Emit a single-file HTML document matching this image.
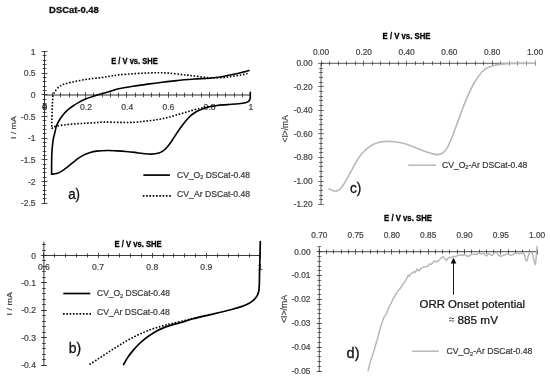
<!DOCTYPE html>
<html><head><meta charset="utf-8"><title>DSCat-0.48</title>
<style>
html,body{margin:0;padding:0;background:#fff;}
body{width:550px;height:378px;overflow:hidden;font-family:"Liberation Sans",sans-serif;}
svg{display:block;}
svg text{font-family:"Liberation Sans",sans-serif;}
body{-webkit-font-smoothing:antialiased;}
svg{will-change:transform;transform:translateZ(0);}
</style></head><body>
<svg width="550" height="378" viewBox="0 0 550 378">
<rect width="550" height="378" fill="#fff"/>
<text x="49.10" y="13.10" font-size="8.8" text-anchor="start" font-weight="bold" fill="#111"  stroke="#111" stroke-width="0.3" textLength="49.60" lengthAdjust="spacingAndGlyphs">DSCat-0.48</text>
<line x1="44.50" y1="95.00" x2="250.80" y2="95.00" stroke="#2a2a2a" stroke-width="1.0" />
<line x1="44.50" y1="51.60" x2="44.50" y2="203.15" stroke="#262626" stroke-width="0.9" />
<line x1="44.50" y1="92.00" x2="44.50" y2="97.80" stroke="#262626" stroke-width="0.8"/>
<line x1="52.50" y1="92.60" x2="52.50" y2="97.20" stroke="#262626" stroke-width="0.8"/>
<line x1="60.50" y1="92.60" x2="60.50" y2="97.20" stroke="#262626" stroke-width="0.8"/>
<line x1="69.50" y1="92.60" x2="69.50" y2="97.20" stroke="#262626" stroke-width="0.8"/>
<line x1="77.50" y1="92.60" x2="77.50" y2="97.20" stroke="#262626" stroke-width="0.8"/>
<line x1="85.50" y1="92.00" x2="85.50" y2="97.80" stroke="#262626" stroke-width="0.8"/>
<line x1="93.50" y1="92.60" x2="93.50" y2="97.20" stroke="#262626" stroke-width="0.8"/>
<line x1="102.50" y1="92.60" x2="102.50" y2="97.20" stroke="#262626" stroke-width="0.8"/>
<line x1="110.50" y1="92.60" x2="110.50" y2="97.20" stroke="#262626" stroke-width="0.8"/>
<line x1="118.50" y1="92.60" x2="118.50" y2="97.20" stroke="#262626" stroke-width="0.8"/>
<line x1="126.50" y1="92.00" x2="126.50" y2="97.80" stroke="#262626" stroke-width="0.8"/>
<line x1="135.50" y1="92.60" x2="135.50" y2="97.20" stroke="#262626" stroke-width="0.8"/>
<line x1="143.50" y1="92.60" x2="143.50" y2="97.20" stroke="#262626" stroke-width="0.8"/>
<line x1="151.50" y1="92.60" x2="151.50" y2="97.20" stroke="#262626" stroke-width="0.8"/>
<line x1="159.50" y1="92.60" x2="159.50" y2="97.20" stroke="#262626" stroke-width="0.8"/>
<line x1="168.50" y1="92.00" x2="168.50" y2="97.80" stroke="#262626" stroke-width="0.8"/>
<line x1="176.50" y1="92.60" x2="176.50" y2="97.20" stroke="#262626" stroke-width="0.8"/>
<line x1="184.50" y1="92.60" x2="184.50" y2="97.20" stroke="#262626" stroke-width="0.8"/>
<line x1="192.50" y1="92.60" x2="192.50" y2="97.20" stroke="#262626" stroke-width="0.8"/>
<line x1="201.50" y1="92.60" x2="201.50" y2="97.20" stroke="#262626" stroke-width="0.8"/>
<line x1="209.50" y1="92.00" x2="209.50" y2="97.80" stroke="#262626" stroke-width="0.8"/>
<line x1="217.50" y1="92.60" x2="217.50" y2="97.20" stroke="#262626" stroke-width="0.8"/>
<line x1="225.50" y1="92.60" x2="225.50" y2="97.20" stroke="#262626" stroke-width="0.8"/>
<line x1="234.50" y1="92.60" x2="234.50" y2="97.20" stroke="#262626" stroke-width="0.8"/>
<line x1="242.50" y1="92.60" x2="242.50" y2="97.20" stroke="#262626" stroke-width="0.8"/>
<line x1="250.50" y1="92.00" x2="250.50" y2="97.80" stroke="#262626" stroke-width="0.8"/>
<line x1="41.50" y1="51.50" x2="47.50" y2="51.50" stroke="#262626" stroke-width="0.8"/>
<line x1="42.60" y1="55.50" x2="46.40" y2="55.50" stroke="#262626" stroke-width="0.8"/>
<line x1="42.60" y1="60.50" x2="46.40" y2="60.50" stroke="#262626" stroke-width="0.8"/>
<line x1="42.60" y1="64.50" x2="46.40" y2="64.50" stroke="#262626" stroke-width="0.8"/>
<line x1="42.60" y1="68.50" x2="46.40" y2="68.50" stroke="#262626" stroke-width="0.8"/>
<line x1="41.50" y1="73.50" x2="47.50" y2="73.50" stroke="#262626" stroke-width="0.8"/>
<line x1="42.60" y1="77.50" x2="46.40" y2="77.50" stroke="#262626" stroke-width="0.8"/>
<line x1="42.60" y1="81.50" x2="46.40" y2="81.50" stroke="#262626" stroke-width="0.8"/>
<line x1="42.60" y1="86.50" x2="46.40" y2="86.50" stroke="#262626" stroke-width="0.8"/>
<line x1="42.60" y1="90.50" x2="46.40" y2="90.50" stroke="#262626" stroke-width="0.8"/>
<line x1="41.50" y1="94.50" x2="47.50" y2="94.50" stroke="#262626" stroke-width="0.8"/>
<line x1="42.60" y1="99.50" x2="46.40" y2="99.50" stroke="#262626" stroke-width="0.8"/>
<line x1="42.60" y1="103.50" x2="46.40" y2="103.50" stroke="#262626" stroke-width="0.8"/>
<line x1="42.60" y1="107.50" x2="46.40" y2="107.50" stroke="#262626" stroke-width="0.8"/>
<line x1="42.60" y1="112.50" x2="46.40" y2="112.50" stroke="#262626" stroke-width="0.8"/>
<line x1="41.50" y1="116.50" x2="47.50" y2="116.50" stroke="#262626" stroke-width="0.8"/>
<line x1="42.60" y1="120.50" x2="46.40" y2="120.50" stroke="#262626" stroke-width="0.8"/>
<line x1="42.60" y1="125.50" x2="46.40" y2="125.50" stroke="#262626" stroke-width="0.8"/>
<line x1="42.60" y1="129.50" x2="46.40" y2="129.50" stroke="#262626" stroke-width="0.8"/>
<line x1="42.60" y1="133.50" x2="46.40" y2="133.50" stroke="#262626" stroke-width="0.8"/>
<line x1="41.50" y1="138.50" x2="47.50" y2="138.50" stroke="#262626" stroke-width="0.8"/>
<line x1="42.60" y1="142.50" x2="46.40" y2="142.50" stroke="#262626" stroke-width="0.8"/>
<line x1="42.60" y1="146.50" x2="46.40" y2="146.50" stroke="#262626" stroke-width="0.8"/>
<line x1="42.60" y1="151.50" x2="46.40" y2="151.50" stroke="#262626" stroke-width="0.8"/>
<line x1="42.60" y1="155.50" x2="46.40" y2="155.50" stroke="#262626" stroke-width="0.8"/>
<line x1="41.50" y1="159.50" x2="47.50" y2="159.50" stroke="#262626" stroke-width="0.8"/>
<line x1="42.60" y1="164.50" x2="46.40" y2="164.50" stroke="#262626" stroke-width="0.8"/>
<line x1="42.60" y1="168.50" x2="46.40" y2="168.50" stroke="#262626" stroke-width="0.8"/>
<line x1="42.60" y1="172.50" x2="46.40" y2="172.50" stroke="#262626" stroke-width="0.8"/>
<line x1="42.60" y1="177.50" x2="46.40" y2="177.50" stroke="#262626" stroke-width="0.8"/>
<line x1="41.50" y1="181.50" x2="47.50" y2="181.50" stroke="#262626" stroke-width="0.8"/>
<line x1="42.60" y1="185.50" x2="46.40" y2="185.50" stroke="#262626" stroke-width="0.8"/>
<line x1="42.60" y1="190.50" x2="46.40" y2="190.50" stroke="#262626" stroke-width="0.8"/>
<line x1="42.60" y1="194.50" x2="46.40" y2="194.50" stroke="#262626" stroke-width="0.8"/>
<line x1="42.60" y1="198.50" x2="46.40" y2="198.50" stroke="#262626" stroke-width="0.8"/>
<line x1="41.50" y1="203.50" x2="47.50" y2="203.50" stroke="#262626" stroke-width="0.8"/>
<text x="35.60" y="54.60" font-size="8.6" text-anchor="end" font-weight="normal" fill="#454545"  stroke="#454545" stroke-width="0.22">1</text>
<text x="35.60" y="76.25" font-size="8.6" text-anchor="end" font-weight="normal" fill="#454545"  stroke="#454545" stroke-width="0.22">0.5</text>
<text x="35.60" y="97.90" font-size="8.6" text-anchor="end" font-weight="normal" fill="#454545"  stroke="#454545" stroke-width="0.22">0</text>
<text x="35.60" y="119.55" font-size="8.6" text-anchor="end" font-weight="normal" fill="#454545"  stroke="#454545" stroke-width="0.22">-0.5</text>
<text x="35.60" y="141.20" font-size="8.6" text-anchor="end" font-weight="normal" fill="#454545"  stroke="#454545" stroke-width="0.22">-1</text>
<text x="35.60" y="162.85" font-size="8.6" text-anchor="end" font-weight="normal" fill="#454545"  stroke="#454545" stroke-width="0.22">-1.5</text>
<text x="35.60" y="184.50" font-size="8.6" text-anchor="end" font-weight="normal" fill="#454545"  stroke="#454545" stroke-width="0.22">-2</text>
<text x="35.60" y="206.15" font-size="8.6" text-anchor="end" font-weight="normal" fill="#454545"  stroke="#454545" stroke-width="0.22">-2.5</text>
<text x="44.60" y="109.70" font-size="8.8" text-anchor="middle" font-weight="normal" fill="#1c1c1c" stroke="#1c1c1c" stroke-width="0.45">0</text>
<text x="86.00" y="109.60" font-size="8.6" text-anchor="middle" font-weight="normal" fill="#454545"  stroke="#454545" stroke-width="0.22">0.2</text>
<text x="127.20" y="109.60" font-size="8.6" text-anchor="middle" font-weight="normal" fill="#454545"  stroke="#454545" stroke-width="0.22">0.4</text>
<text x="168.40" y="109.60" font-size="8.6" text-anchor="middle" font-weight="normal" fill="#454545"  stroke="#454545" stroke-width="0.22">0.6</text>
<text x="209.60" y="109.60" font-size="8.6" text-anchor="middle" font-weight="normal" fill="#454545"  stroke="#454545" stroke-width="0.22">0.8</text>
<text x="250.80" y="109.60" font-size="8.6" text-anchor="middle" font-weight="normal" fill="#454545"  stroke="#454545" stroke-width="0.22">1</text>
<text x="134.50" y="64.30" font-size="8.7" text-anchor="middle" font-weight="bold" fill="#000"  stroke="#000" stroke-width="0.3" textLength="46.50" lengthAdjust="spacingAndGlyphs">E / V vs. SHE</text>
<text transform="translate(16.10,127.70) rotate(-90)" font-size="8.0" text-anchor="middle" fill="#454545" stroke="#454545" stroke-width="0.2" textLength="22.80" lengthAdjust="spacingAndGlyphs">I / mA</text>
<path d="M247.60,73.50 C246.52,73.75 243.63,74.52 241.10,75.00 C238.57,75.48 235.32,75.98 232.40,76.40 C229.48,76.82 226.75,77.25 223.60,77.50 C220.45,77.75 216.40,77.90 213.50,77.90 C210.60,77.90 208.87,77.75 206.20,77.50 C203.53,77.25 200.42,76.77 197.50,76.40 C194.58,76.03 191.37,75.62 188.70,75.30 C186.03,74.98 184.70,74.85 181.50,74.50 C178.30,74.15 173.20,73.50 169.50,73.20 C165.80,72.90 162.95,72.73 159.30,72.70 C155.65,72.67 151.97,72.83 147.60,73.00 C143.23,73.17 137.95,73.38 133.10,73.70 C128.25,74.02 122.35,74.48 118.50,74.90 C114.65,75.32 112.72,75.77 110.00,76.20 C107.28,76.63 105.05,77.12 102.20,77.50 C99.35,77.88 95.98,78.12 92.90,78.50 C89.82,78.88 86.78,79.28 83.70,79.80 C80.62,80.32 77.27,81.00 74.40,81.60 C71.53,82.20 68.60,82.82 66.50,83.40 C64.40,83.98 63.23,84.37 61.80,85.10 C60.37,85.83 59.07,86.68 57.90,87.80 C56.73,88.92 55.58,90.60 54.80,91.80 C54.02,93.00 53.58,93.30 53.20,95.00 C52.82,96.70 52.67,99.50 52.50,102.00 C52.33,104.50 52.30,107.00 52.20,110.00 C52.10,113.00 51.98,116.88 51.90,120.00 C51.82,123.12 51.73,127.25 51.70,128.70" fill="none" stroke="#000" stroke-width="1.6" stroke-dasharray="1.6 1.7" stroke-linecap="butt"/>
<path d="M51.70,128.70 C52.40,128.30 53.22,127.00 55.90,126.30 C58.58,125.60 63.83,124.95 67.80,124.50 C71.77,124.05 75.73,123.87 79.70,123.60 C83.67,123.33 87.63,123.15 91.60,122.90 C95.57,122.65 98.77,122.18 103.50,122.10 C108.23,122.02 114.92,122.37 120.00,122.40 C125.08,122.43 129.85,122.50 134.00,122.30 C138.15,122.10 141.27,121.60 144.90,121.20 C148.53,120.80 152.17,120.48 155.80,119.90 C159.43,119.32 163.07,118.57 166.70,117.70 C170.33,116.83 173.97,115.75 177.60,114.70 C181.23,113.65 184.85,112.43 188.50,111.40 C192.15,110.37 196.58,109.23 199.50,108.50 C202.42,107.77 203.10,107.48 206.00,107.00 C208.90,106.52 215.08,105.83 216.90,105.60" fill="none" stroke="#000" stroke-width="1.6" stroke-dasharray="1.6 1.7" stroke-linecap="butt"/>
<path d="M249.10,70.50 C248.25,70.73 246.30,71.32 244.00,71.90 C241.70,72.48 238.22,73.37 235.30,74.00 C232.38,74.63 229.42,75.15 226.50,75.70 C223.58,76.25 220.70,76.88 217.80,77.30 C214.90,77.72 212.98,77.92 209.10,78.20 C205.22,78.48 198.68,78.73 194.50,79.00 C190.32,79.27 186.97,79.53 184.00,79.80 C181.03,80.07 180.33,80.20 176.70,80.60 C173.07,81.00 167.05,81.62 162.20,82.20 C157.35,82.78 152.45,83.42 147.60,84.10 C142.75,84.78 137.95,85.53 133.10,86.30 C128.25,87.07 122.30,87.87 118.50,88.70 C114.70,89.53 112.67,90.58 110.30,91.30 C107.93,92.02 106.97,92.23 104.30,93.00 C101.63,93.77 97.35,94.93 94.30,95.90 C91.25,96.87 88.58,97.72 86.00,98.80 C83.42,99.88 80.98,101.20 78.80,102.40 C76.62,103.60 74.88,104.62 72.90,106.00 C70.92,107.38 68.68,109.02 66.90,110.70 C65.12,112.38 63.58,114.30 62.20,116.10 C60.82,117.90 59.60,119.72 58.60,121.50 C57.60,123.28 56.82,124.97 56.20,126.80 C55.58,128.63 55.38,130.47 54.90,132.50 C54.42,134.53 53.73,136.58 53.30,139.00 C52.87,141.42 52.55,144.33 52.30,147.00 C52.05,149.67 51.92,152.00 51.80,155.00 C51.68,158.00 51.63,161.80 51.60,165.00 C51.57,168.20 51.60,172.67 51.60,174.20" fill="none" stroke="#000" stroke-width="1.6" stroke-linejoin="round" stroke-linecap="round" stroke-linecap="butt"/>
<path d="M51.60,174.20 C52.45,174.10 54.93,174.15 56.70,173.60 C58.47,173.05 60.38,172.02 62.20,170.90 C64.02,169.78 65.78,168.32 67.60,166.90 C69.42,165.48 71.28,163.85 73.10,162.40 C74.92,160.95 76.68,159.45 78.50,158.20 C80.32,156.95 82.17,155.82 84.00,154.90 C85.83,153.98 87.38,153.33 89.50,152.70 C91.62,152.07 93.68,151.47 96.70,151.10 C99.72,150.73 104.27,150.53 107.60,150.50 C110.93,150.47 113.67,150.73 116.70,150.90 C119.73,151.07 122.77,151.25 125.80,151.50 C128.83,151.75 132.08,152.07 134.90,152.40 C137.72,152.73 139.93,153.22 142.70,153.50 C145.47,153.78 148.95,154.13 151.50,154.10 C154.05,154.07 156.00,153.87 158.00,153.30 C160.00,152.73 161.68,152.08 163.50,150.70 C165.32,149.32 167.08,147.30 168.90,145.00 C170.72,142.70 172.58,139.60 174.40,136.90 C176.22,134.20 177.98,131.35 179.80,128.80 C181.62,126.25 183.48,123.78 185.30,121.60 C187.12,119.42 188.88,117.33 190.70,115.70 C192.52,114.07 194.38,112.88 196.20,111.80 C198.02,110.72 199.60,110.00 201.60,109.20 C203.60,108.40 205.65,107.62 208.20,107.00 C210.75,106.38 213.63,105.90 216.90,105.50 C220.17,105.10 224.17,104.90 227.80,104.60 C231.43,104.30 235.78,104.02 238.70,103.70 C241.62,103.38 243.65,103.10 245.30,102.70 C246.95,102.30 247.80,101.97 248.60,101.30 C249.40,100.63 249.82,99.75 250.10,98.70 C250.38,97.65 250.27,96.08 250.30,95.00 C250.33,93.92 250.30,92.67 250.30,92.20" fill="none" stroke="#000" stroke-width="1.6" stroke-linejoin="round" stroke-linecap="round" />
<text x="68.20" y="199.30" font-size="14.5" text-anchor="start" font-weight="normal" fill="#111" stroke="#111" stroke-width="0.3" textLength="11.90" lengthAdjust="spacingAndGlyphs">a)</text>
<line x1="143.30" y1="175.10" x2="169.90" y2="175.10" stroke="#000" stroke-width="1.7" />
<text x="177.10" y="177.70" font-size="8.4" text-anchor="start" font-weight="normal" fill="#3a3a3a"  stroke="#3a3a3a" stroke-width="0.22" textLength="72.90" lengthAdjust="spacingAndGlyphs">CV_O<tspan font-size="5.5" dy="1.5">2</tspan><tspan dy="-1.5"> DSCat-0.48</tspan></text>
<line x1="142.8" y1="195.8" x2="171.6" y2="195.8" stroke="#000" stroke-width="1.7" stroke-dasharray="1.6 1.7" stroke-linecap="butt"/>
<text x="177.10" y="197.00" font-size="8.4" text-anchor="start" font-weight="normal" fill="#3a3a3a"  stroke="#3a3a3a" stroke-width="0.22" textLength="72.90" lengthAdjust="spacingAndGlyphs">CV_Ar DSCat-0.48</text>
<line x1="43.90" y1="255.50" x2="260.50" y2="255.50" stroke="#262626" stroke-width="0.9" />
<line x1="43.90" y1="241.78" x2="43.90" y2="365.30" stroke="#262626" stroke-width="0.9" />
<line x1="43.50" y1="252.90" x2="43.50" y2="258.10" stroke="#262626" stroke-width="0.8"/>
<line x1="54.50" y1="253.50" x2="54.50" y2="257.50" stroke="#262626" stroke-width="0.8"/>
<line x1="65.50" y1="253.50" x2="65.50" y2="257.50" stroke="#262626" stroke-width="0.8"/>
<line x1="76.50" y1="253.50" x2="76.50" y2="257.50" stroke="#262626" stroke-width="0.8"/>
<line x1="87.50" y1="253.50" x2="87.50" y2="257.50" stroke="#262626" stroke-width="0.8"/>
<line x1="98.50" y1="252.90" x2="98.50" y2="258.10" stroke="#262626" stroke-width="0.8"/>
<line x1="108.50" y1="253.50" x2="108.50" y2="257.50" stroke="#262626" stroke-width="0.8"/>
<line x1="119.50" y1="253.50" x2="119.50" y2="257.50" stroke="#262626" stroke-width="0.8"/>
<line x1="130.50" y1="253.50" x2="130.50" y2="257.50" stroke="#262626" stroke-width="0.8"/>
<line x1="141.50" y1="253.50" x2="141.50" y2="257.50" stroke="#262626" stroke-width="0.8"/>
<line x1="152.50" y1="252.90" x2="152.50" y2="258.10" stroke="#262626" stroke-width="0.8"/>
<line x1="163.50" y1="253.50" x2="163.50" y2="257.50" stroke="#262626" stroke-width="0.8"/>
<line x1="173.50" y1="253.50" x2="173.50" y2="257.50" stroke="#262626" stroke-width="0.8"/>
<line x1="184.50" y1="253.50" x2="184.50" y2="257.50" stroke="#262626" stroke-width="0.8"/>
<line x1="195.50" y1="253.50" x2="195.50" y2="257.50" stroke="#262626" stroke-width="0.8"/>
<line x1="206.50" y1="252.90" x2="206.50" y2="258.10" stroke="#262626" stroke-width="0.8"/>
<line x1="217.50" y1="253.50" x2="217.50" y2="257.50" stroke="#262626" stroke-width="0.8"/>
<line x1="228.50" y1="253.50" x2="228.50" y2="257.50" stroke="#262626" stroke-width="0.8"/>
<line x1="238.50" y1="253.50" x2="238.50" y2="257.50" stroke="#262626" stroke-width="0.8"/>
<line x1="249.50" y1="253.50" x2="249.50" y2="257.50" stroke="#262626" stroke-width="0.8"/>
<line x1="260.50" y1="252.90" x2="260.50" y2="258.10" stroke="#262626" stroke-width="0.8"/>
<line x1="42.00" y1="244.50" x2="45.80" y2="244.50" stroke="#262626" stroke-width="0.8"/>
<line x1="42.00" y1="250.50" x2="45.80" y2="250.50" stroke="#262626" stroke-width="0.8"/>
<line x1="42.00" y1="255.50" x2="45.80" y2="255.50" stroke="#262626" stroke-width="0.8"/>
<line x1="42.00" y1="260.50" x2="45.80" y2="260.50" stroke="#262626" stroke-width="0.8"/>
<line x1="42.00" y1="266.50" x2="45.80" y2="266.50" stroke="#262626" stroke-width="0.8"/>
<line x1="42.00" y1="271.50" x2="45.80" y2="271.50" stroke="#262626" stroke-width="0.8"/>
<line x1="42.00" y1="277.50" x2="45.80" y2="277.50" stroke="#262626" stroke-width="0.8"/>
<line x1="42.00" y1="282.50" x2="45.80" y2="282.50" stroke="#262626" stroke-width="0.8"/>
<line x1="42.00" y1="288.50" x2="45.80" y2="288.50" stroke="#262626" stroke-width="0.8"/>
<line x1="42.00" y1="293.50" x2="45.80" y2="293.50" stroke="#262626" stroke-width="0.8"/>
<line x1="42.00" y1="299.50" x2="45.80" y2="299.50" stroke="#262626" stroke-width="0.8"/>
<line x1="42.00" y1="304.50" x2="45.80" y2="304.50" stroke="#262626" stroke-width="0.8"/>
<line x1="42.00" y1="310.50" x2="45.80" y2="310.50" stroke="#262626" stroke-width="0.8"/>
<line x1="42.00" y1="315.50" x2="45.80" y2="315.50" stroke="#262626" stroke-width="0.8"/>
<line x1="42.00" y1="321.50" x2="45.80" y2="321.50" stroke="#262626" stroke-width="0.8"/>
<line x1="42.00" y1="326.50" x2="45.80" y2="326.50" stroke="#262626" stroke-width="0.8"/>
<line x1="42.00" y1="332.50" x2="45.80" y2="332.50" stroke="#262626" stroke-width="0.8"/>
<line x1="42.00" y1="337.50" x2="45.80" y2="337.50" stroke="#262626" stroke-width="0.8"/>
<line x1="42.00" y1="343.50" x2="45.80" y2="343.50" stroke="#262626" stroke-width="0.8"/>
<line x1="42.00" y1="348.50" x2="45.80" y2="348.50" stroke="#262626" stroke-width="0.8"/>
<line x1="42.00" y1="354.50" x2="45.80" y2="354.50" stroke="#262626" stroke-width="0.8"/>
<line x1="42.00" y1="359.50" x2="45.80" y2="359.50" stroke="#262626" stroke-width="0.8"/>
<line x1="42.00" y1="365.50" x2="45.80" y2="365.50" stroke="#262626" stroke-width="0.8"/>
<line x1="40.90" y1="255.50" x2="46.90" y2="255.50" stroke="#262626" stroke-width="0.8"/>
<line x1="40.90" y1="282.50" x2="46.90" y2="282.50" stroke="#262626" stroke-width="0.8"/>
<line x1="40.90" y1="310.50" x2="46.90" y2="310.50" stroke="#262626" stroke-width="0.8"/>
<line x1="40.90" y1="337.50" x2="46.90" y2="337.50" stroke="#262626" stroke-width="0.8"/>
<line x1="40.90" y1="365.50" x2="46.90" y2="365.50" stroke="#262626" stroke-width="0.8"/>
<text x="36.00" y="258.50" font-size="8.6" text-anchor="end" font-weight="normal" fill="#454545"  stroke="#454545" stroke-width="0.22">0</text>
<text x="36.00" y="285.95" font-size="8.6" text-anchor="end" font-weight="normal" fill="#454545"  stroke="#454545" stroke-width="0.22">-0.1</text>
<text x="36.00" y="313.40" font-size="8.6" text-anchor="end" font-weight="normal" fill="#454545"  stroke="#454545" stroke-width="0.22">-0.2</text>
<text x="36.00" y="340.85" font-size="8.6" text-anchor="end" font-weight="normal" fill="#454545"  stroke="#454545" stroke-width="0.22">-0.3</text>
<text x="36.00" y="368.30" font-size="8.6" text-anchor="end" font-weight="normal" fill="#454545"  stroke="#454545" stroke-width="0.22">-0.4</text>
<text x="43.90" y="269.70" font-size="8.6" text-anchor="middle" font-weight="normal" fill="#454545"  stroke="#454545" stroke-width="0.22">0.6</text>
<text x="98.05" y="269.70" font-size="8.6" text-anchor="middle" font-weight="normal" fill="#454545"  stroke="#454545" stroke-width="0.22">0.7</text>
<text x="152.20" y="269.70" font-size="8.6" text-anchor="middle" font-weight="normal" fill="#454545"  stroke="#454545" stroke-width="0.22">0.8</text>
<text x="206.35" y="269.70" font-size="8.6" text-anchor="middle" font-weight="normal" fill="#454545"  stroke="#454545" stroke-width="0.22">0.9</text>
<text x="260.50" y="269.70" font-size="8.6" text-anchor="middle" font-weight="normal" fill="#454545"  stroke="#454545" stroke-width="0.22">1</text>
<text x="138.10" y="246.50" font-size="8.7" text-anchor="middle" font-weight="bold" fill="#000"  stroke="#000" stroke-width="0.3" textLength="47.30" lengthAdjust="spacingAndGlyphs">E / V vs. SHE</text>
<text transform="translate(12.40,303.80) rotate(-90)" font-size="8.0" text-anchor="middle" fill="#454545" stroke="#454545" stroke-width="0.2" textLength="23.20" lengthAdjust="spacingAndGlyphs">I / mA</text>
<path d="M89.50,364.50 C91.00,363.53 95.48,360.67 98.50,358.70 C101.52,356.73 104.57,354.67 107.60,352.70 C110.63,350.73 113.67,348.80 116.70,346.90 C119.73,345.00 122.77,343.05 125.80,341.30 C128.83,339.55 131.87,337.92 134.90,336.40 C137.93,334.88 140.97,333.48 144.00,332.20 C147.03,330.92 150.07,329.73 153.10,328.70 C156.13,327.67 159.17,326.85 162.20,326.00 C165.23,325.15 167.67,324.48 171.30,323.60 C174.93,322.72 180.37,321.57 184.00,320.70 C187.63,319.83 189.40,319.28 193.10,318.40 C196.80,317.52 204.02,315.90 206.20,315.40" fill="none" stroke="#000" stroke-width="1.6" stroke-dasharray="1.6 1.7" stroke-linecap="butt"/>
<path d="M123.60,364.50 C124.27,363.35 126.02,359.95 127.60,357.60 C129.18,355.25 131.28,352.58 133.10,350.40 C134.92,348.22 136.68,346.30 138.50,344.50 C140.32,342.70 142.17,341.10 144.00,339.60 C145.83,338.10 147.38,336.95 149.50,335.50 C151.62,334.05 154.28,332.22 156.70,330.90 C159.12,329.58 161.57,328.57 164.00,327.60 C166.43,326.63 168.88,325.85 171.30,325.10 C173.72,324.35 176.38,323.68 178.50,323.10 C180.62,322.52 181.57,322.32 184.00,321.60 C186.43,320.88 189.40,319.80 193.10,318.80 C196.80,317.80 201.83,316.65 206.20,315.60 C210.57,314.55 214.93,313.55 219.30,312.50 C223.67,311.45 228.58,310.32 232.40,309.30 C236.22,308.28 239.48,307.37 242.20,306.40 C244.92,305.43 246.80,304.55 248.70,303.50 C250.60,302.45 252.23,301.33 253.60,300.10 C254.97,298.87 256.05,297.53 256.90,296.10 C257.75,294.67 258.30,293.35 258.70,291.50 C259.10,289.65 259.15,288.58 259.30,285.00 C259.45,281.42 259.48,275.00 259.60,270.00 C259.72,265.00 259.88,259.73 260.00,255.00 C260.12,250.27 260.25,243.83 260.30,241.60" fill="none" stroke="#000" stroke-width="1.7" stroke-linejoin="round" stroke-linecap="round" stroke-linecap="butt"/>
<text x="68.80" y="353.20" font-size="14.5" text-anchor="start" font-weight="normal" fill="#111" stroke="#111" stroke-width="0.3" textLength="12.40" lengthAdjust="spacingAndGlyphs">b)</text>
<line x1="63.30" y1="293.50" x2="90.30" y2="293.50" stroke="#000" stroke-width="1.7" />
<text x="97.00" y="296.40" font-size="8.4" text-anchor="start" font-weight="normal" fill="#3a3a3a"  stroke="#3a3a3a" stroke-width="0.22" textLength="72.90" lengthAdjust="spacingAndGlyphs">CV_O<tspan font-size="5.5" dy="1.5">2</tspan><tspan dy="-1.5"> DSCat-0.48</tspan></text>
<line x1="63" y1="313.8" x2="91" y2="313.8" stroke="#000" stroke-width="1.7" stroke-dasharray="1.6 1.7" stroke-linecap="butt"/>
<text x="97.00" y="315.00" font-size="8.4" text-anchor="start" font-weight="normal" fill="#3a3a3a"  stroke="#3a3a3a" stroke-width="0.22" textLength="72.90" lengthAdjust="spacingAndGlyphs">CV_Ar DSCat-0.48</text>
<line x1="321.00" y1="63.30" x2="535.00" y2="63.30" stroke="#303030" stroke-width="0.8" />
<line x1="321.00" y1="63.30" x2="321.00" y2="204.54" stroke="#303030" stroke-width="0.8" />
<line x1="321.50" y1="60.70" x2="321.50" y2="65.90" stroke="#303030" stroke-width="0.7"/>
<line x1="329.50" y1="61.30" x2="329.50" y2="65.30" stroke="#303030" stroke-width="0.7"/>
<line x1="338.50" y1="61.30" x2="338.50" y2="65.30" stroke="#303030" stroke-width="0.7"/>
<line x1="346.50" y1="61.30" x2="346.50" y2="65.30" stroke="#303030" stroke-width="0.7"/>
<line x1="355.50" y1="61.30" x2="355.50" y2="65.30" stroke="#303030" stroke-width="0.7"/>
<line x1="363.50" y1="60.70" x2="363.50" y2="65.90" stroke="#303030" stroke-width="0.7"/>
<line x1="372.50" y1="61.30" x2="372.50" y2="65.30" stroke="#303030" stroke-width="0.7"/>
<line x1="380.50" y1="61.30" x2="380.50" y2="65.30" stroke="#303030" stroke-width="0.7"/>
<line x1="389.50" y1="61.30" x2="389.50" y2="65.30" stroke="#303030" stroke-width="0.7"/>
<line x1="398.50" y1="61.30" x2="398.50" y2="65.30" stroke="#303030" stroke-width="0.7"/>
<line x1="406.50" y1="60.70" x2="406.50" y2="65.90" stroke="#303030" stroke-width="0.7"/>
<line x1="415.50" y1="61.30" x2="415.50" y2="65.30" stroke="#303030" stroke-width="0.7"/>
<line x1="423.50" y1="61.30" x2="423.50" y2="65.30" stroke="#303030" stroke-width="0.7"/>
<line x1="432.50" y1="61.30" x2="432.50" y2="65.30" stroke="#303030" stroke-width="0.7"/>
<line x1="440.50" y1="61.30" x2="440.50" y2="65.30" stroke="#303030" stroke-width="0.7"/>
<line x1="449.50" y1="60.70" x2="449.50" y2="65.90" stroke="#303030" stroke-width="0.7"/>
<line x1="457.50" y1="61.30" x2="457.50" y2="65.30" stroke="#303030" stroke-width="0.7"/>
<line x1="466.50" y1="61.30" x2="466.50" y2="65.30" stroke="#303030" stroke-width="0.7"/>
<line x1="475.50" y1="61.30" x2="475.50" y2="65.30" stroke="#303030" stroke-width="0.7"/>
<line x1="483.50" y1="61.30" x2="483.50" y2="65.30" stroke="#303030" stroke-width="0.7"/>
<line x1="492.50" y1="60.70" x2="492.50" y2="65.90" stroke="#303030" stroke-width="0.7"/>
<line x1="500.50" y1="61.30" x2="500.50" y2="65.30" stroke="#303030" stroke-width="0.7"/>
<line x1="509.50" y1="61.30" x2="509.50" y2="65.30" stroke="#303030" stroke-width="0.7"/>
<line x1="517.50" y1="61.30" x2="517.50" y2="65.30" stroke="#303030" stroke-width="0.7"/>
<line x1="526.50" y1="61.30" x2="526.50" y2="65.30" stroke="#303030" stroke-width="0.7"/>
<line x1="535.50" y1="60.70" x2="535.50" y2="65.90" stroke="#303030" stroke-width="0.7"/>
<line x1="318.20" y1="63.50" x2="323.80" y2="63.50" stroke="#303030" stroke-width="0.7"/>
<line x1="319.10" y1="68.50" x2="322.90" y2="68.50" stroke="#303030" stroke-width="0.7"/>
<line x1="319.10" y1="72.50" x2="322.90" y2="72.50" stroke="#303030" stroke-width="0.7"/>
<line x1="319.10" y1="77.50" x2="322.90" y2="77.50" stroke="#303030" stroke-width="0.7"/>
<line x1="319.10" y1="82.50" x2="322.90" y2="82.50" stroke="#303030" stroke-width="0.7"/>
<line x1="318.20" y1="86.50" x2="323.80" y2="86.50" stroke="#303030" stroke-width="0.7"/>
<line x1="319.10" y1="91.50" x2="322.90" y2="91.50" stroke="#303030" stroke-width="0.7"/>
<line x1="319.10" y1="96.50" x2="322.90" y2="96.50" stroke="#303030" stroke-width="0.7"/>
<line x1="319.10" y1="100.50" x2="322.90" y2="100.50" stroke="#303030" stroke-width="0.7"/>
<line x1="319.10" y1="105.50" x2="322.90" y2="105.50" stroke="#303030" stroke-width="0.7"/>
<line x1="318.20" y1="110.50" x2="323.80" y2="110.50" stroke="#303030" stroke-width="0.7"/>
<line x1="319.10" y1="115.50" x2="322.90" y2="115.50" stroke="#303030" stroke-width="0.7"/>
<line x1="319.10" y1="119.50" x2="322.90" y2="119.50" stroke="#303030" stroke-width="0.7"/>
<line x1="319.10" y1="124.50" x2="322.90" y2="124.50" stroke="#303030" stroke-width="0.7"/>
<line x1="319.10" y1="129.50" x2="322.90" y2="129.50" stroke="#303030" stroke-width="0.7"/>
<line x1="318.20" y1="133.50" x2="323.80" y2="133.50" stroke="#303030" stroke-width="0.7"/>
<line x1="319.10" y1="138.50" x2="322.90" y2="138.50" stroke="#303030" stroke-width="0.7"/>
<line x1="319.10" y1="143.50" x2="322.90" y2="143.50" stroke="#303030" stroke-width="0.7"/>
<line x1="319.10" y1="148.50" x2="322.90" y2="148.50" stroke="#303030" stroke-width="0.7"/>
<line x1="319.10" y1="152.50" x2="322.90" y2="152.50" stroke="#303030" stroke-width="0.7"/>
<line x1="318.20" y1="157.50" x2="323.80" y2="157.50" stroke="#303030" stroke-width="0.7"/>
<line x1="319.10" y1="162.50" x2="322.90" y2="162.50" stroke="#303030" stroke-width="0.7"/>
<line x1="319.10" y1="166.50" x2="322.90" y2="166.50" stroke="#303030" stroke-width="0.7"/>
<line x1="319.10" y1="171.50" x2="322.90" y2="171.50" stroke="#303030" stroke-width="0.7"/>
<line x1="319.10" y1="176.50" x2="322.90" y2="176.50" stroke="#303030" stroke-width="0.7"/>
<line x1="318.20" y1="181.50" x2="323.80" y2="181.50" stroke="#303030" stroke-width="0.7"/>
<line x1="319.10" y1="185.50" x2="322.90" y2="185.50" stroke="#303030" stroke-width="0.7"/>
<line x1="319.10" y1="190.50" x2="322.90" y2="190.50" stroke="#303030" stroke-width="0.7"/>
<line x1="319.10" y1="195.50" x2="322.90" y2="195.50" stroke="#303030" stroke-width="0.7"/>
<line x1="319.10" y1="199.50" x2="322.90" y2="199.50" stroke="#303030" stroke-width="0.7"/>
<line x1="318.20" y1="204.50" x2="323.80" y2="204.50" stroke="#303030" stroke-width="0.7"/>
<text x="312.60" y="66.20" font-size="8.3" text-anchor="end" font-weight="normal" fill="#454545"  stroke="#454545" stroke-width="0.22">0.00</text>
<text x="312.60" y="89.74" font-size="8.3" text-anchor="end" font-weight="normal" fill="#454545"  stroke="#454545" stroke-width="0.22">-0.20</text>
<text x="312.60" y="113.28" font-size="8.3" text-anchor="end" font-weight="normal" fill="#454545"  stroke="#454545" stroke-width="0.22">-0.40</text>
<text x="312.60" y="136.82" font-size="8.3" text-anchor="end" font-weight="normal" fill="#454545"  stroke="#454545" stroke-width="0.22">-0.60</text>
<text x="312.60" y="160.36" font-size="8.3" text-anchor="end" font-weight="normal" fill="#454545"  stroke="#454545" stroke-width="0.22">-0.80</text>
<text x="312.60" y="183.90" font-size="8.3" text-anchor="end" font-weight="normal" fill="#454545"  stroke="#454545" stroke-width="0.22">-1.00</text>
<text x="312.60" y="207.44" font-size="8.3" text-anchor="end" font-weight="normal" fill="#454545"  stroke="#454545" stroke-width="0.22">-1.20</text>
<text x="321.00" y="54.80" font-size="8.3" text-anchor="middle" font-weight="normal" fill="#454545"  stroke="#454545" stroke-width="0.22">0.00</text>
<text x="363.80" y="54.80" font-size="8.3" text-anchor="middle" font-weight="normal" fill="#454545"  stroke="#454545" stroke-width="0.22">0.20</text>
<text x="406.60" y="54.80" font-size="8.3" text-anchor="middle" font-weight="normal" fill="#454545"  stroke="#454545" stroke-width="0.22">0.40</text>
<text x="449.40" y="54.80" font-size="8.3" text-anchor="middle" font-weight="normal" fill="#454545"  stroke="#454545" stroke-width="0.22">0.60</text>
<text x="492.20" y="54.80" font-size="8.3" text-anchor="middle" font-weight="normal" fill="#454545"  stroke="#454545" stroke-width="0.22">0.80</text>
<text x="535.00" y="54.80" font-size="8.3" text-anchor="middle" font-weight="normal" fill="#454545"  stroke="#454545" stroke-width="0.22">1.00</text>
<text x="406.50" y="38.60" font-size="8.2" text-anchor="middle" font-weight="bold" fill="#000"  stroke="#000" stroke-width="0.3" textLength="47.90" lengthAdjust="spacingAndGlyphs">E / V vs. SHE</text>
<text transform="translate(288.30,128.90) rotate(-90)" font-size="8.4" text-anchor="middle" fill="#454545" stroke="#454545" stroke-width="0.2" textLength="27.40" lengthAdjust="spacingAndGlyphs">&lt;I&gt;/mA</text>
<path d="M329.10,188.70 C329.65,189.00 331.13,190.13 332.40,190.50 C333.67,190.87 335.37,191.20 336.70,190.90 C338.03,190.60 339.12,189.97 340.40,188.70 C341.68,187.43 343.02,185.48 344.40,183.30 C345.78,181.12 347.25,178.22 348.70,175.60 C350.15,172.98 351.63,170.25 353.10,167.60 C354.57,164.95 356.05,162.00 357.50,159.70 C358.95,157.40 360.17,155.68 361.80,153.80 C363.43,151.92 365.48,149.92 367.30,148.40 C369.12,146.88 370.70,145.72 372.70,144.70 C374.70,143.68 376.93,142.85 379.30,142.30 C381.67,141.75 384.37,141.48 386.90,141.40 C389.43,141.32 391.77,141.48 394.50,141.80 C397.23,142.12 400.38,142.57 403.30,143.30 C406.22,144.03 409.10,145.13 412.00,146.20 C414.90,147.27 417.97,148.65 420.70,149.70 C423.43,150.75 426.35,151.80 428.40,152.50 C430.45,153.20 431.47,153.55 433.00,153.90 C434.53,154.25 436.02,154.75 437.60,154.60 C439.18,154.45 440.95,154.05 442.50,153.00 C444.05,151.95 445.38,150.77 446.90,148.30 C448.42,145.83 449.93,142.22 451.60,138.20 C453.27,134.18 455.15,128.92 456.90,124.20 C458.65,119.48 460.35,114.45 462.10,109.90 C463.85,105.35 465.58,101.05 467.40,96.90 C469.22,92.75 471.05,88.58 473.00,85.00 C474.95,81.42 477.18,77.97 479.10,75.40 C481.02,72.83 482.38,71.17 484.50,69.60 C486.62,68.03 489.38,66.85 491.80,66.00 C494.22,65.15 496.57,64.87 499.00,64.50 C501.43,64.13 503.90,63.98 506.40,63.80 C508.90,63.62 509.20,63.48 514.00,63.40 C518.80,63.32 531.67,63.32 535.20,63.30" fill="none" stroke="#b9b9b9" stroke-width="1.6" stroke-linejoin="round" stroke-linecap="round" stroke-linecap="butt"/>
<line x1="509.50" y1="61.20" x2="509.50" y2="65.40" stroke="#9a9a9a" stroke-width="1.0" />
<line x1="517.50" y1="61.20" x2="517.50" y2="65.40" stroke="#9a9a9a" stroke-width="1.0" />
<line x1="526.50" y1="61.20" x2="526.50" y2="65.40" stroke="#9a9a9a" stroke-width="1.0" />
<line x1="535.50" y1="60.60" x2="535.50" y2="66.00" stroke="#9a9a9a" stroke-width="1.0" />
<text x="350.00" y="192.70" font-size="14.5" text-anchor="start" font-weight="normal" fill="#111" stroke="#111" stroke-width="0.3" textLength="11.40" lengthAdjust="spacingAndGlyphs">c)</text>
<line x1="408.30" y1="165.20" x2="436.00" y2="165.20" stroke="#b9b9b9" stroke-width="1.5" />
<text x="442.00" y="167.80" font-size="8.4" text-anchor="start" font-weight="normal" fill="#3a3a3a"  stroke="#3a3a3a" stroke-width="0.22" textLength="85.20" lengthAdjust="spacingAndGlyphs">CV_O<tspan font-size="5.5" dy="1.5">2</tspan><tspan dy="-1.5">-Ar DSCat-0.48</tspan></text>
<line x1="319.30" y1="251.70" x2="537.10" y2="251.70" stroke="#303030" stroke-width="0.9" />
<line x1="319.30" y1="246.92" x2="319.30" y2="371.10" stroke="#303030" stroke-width="0.8" />
<line x1="319.50" y1="249.00" x2="319.50" y2="254.40" stroke="#303030" stroke-width="0.8"/>
<line x1="326.50" y1="249.60" x2="326.50" y2="253.80" stroke="#303030" stroke-width="0.8"/>
<line x1="333.50" y1="249.60" x2="333.50" y2="253.80" stroke="#303030" stroke-width="0.8"/>
<line x1="341.50" y1="249.60" x2="341.50" y2="253.80" stroke="#303030" stroke-width="0.8"/>
<line x1="348.50" y1="249.60" x2="348.50" y2="253.80" stroke="#303030" stroke-width="0.8"/>
<line x1="355.50" y1="249.00" x2="355.50" y2="254.40" stroke="#303030" stroke-width="0.8"/>
<line x1="362.50" y1="249.60" x2="362.50" y2="253.80" stroke="#303030" stroke-width="0.8"/>
<line x1="370.50" y1="249.60" x2="370.50" y2="253.80" stroke="#303030" stroke-width="0.8"/>
<line x1="377.50" y1="249.60" x2="377.50" y2="253.80" stroke="#303030" stroke-width="0.8"/>
<line x1="384.50" y1="249.60" x2="384.50" y2="253.80" stroke="#303030" stroke-width="0.8"/>
<line x1="391.50" y1="249.00" x2="391.50" y2="254.40" stroke="#303030" stroke-width="0.8"/>
<line x1="399.50" y1="249.60" x2="399.50" y2="253.80" stroke="#303030" stroke-width="0.8"/>
<line x1="406.50" y1="249.60" x2="406.50" y2="253.80" stroke="#303030" stroke-width="0.8"/>
<line x1="413.50" y1="249.60" x2="413.50" y2="253.80" stroke="#303030" stroke-width="0.8"/>
<line x1="420.50" y1="249.60" x2="420.50" y2="253.80" stroke="#303030" stroke-width="0.8"/>
<line x1="428.50" y1="249.00" x2="428.50" y2="254.40" stroke="#303030" stroke-width="0.8"/>
<line x1="435.50" y1="249.60" x2="435.50" y2="253.80" stroke="#303030" stroke-width="0.8"/>
<line x1="442.50" y1="249.60" x2="442.50" y2="253.80" stroke="#303030" stroke-width="0.8"/>
<line x1="449.50" y1="249.60" x2="449.50" y2="253.80" stroke="#303030" stroke-width="0.8"/>
<line x1="457.50" y1="249.60" x2="457.50" y2="253.80" stroke="#303030" stroke-width="0.8"/>
<line x1="464.50" y1="249.00" x2="464.50" y2="254.40" stroke="#303030" stroke-width="0.8"/>
<line x1="471.50" y1="249.60" x2="471.50" y2="253.80" stroke="#303030" stroke-width="0.8"/>
<line x1="479.50" y1="249.60" x2="479.50" y2="253.80" stroke="#303030" stroke-width="0.8"/>
<line x1="486.50" y1="249.60" x2="486.50" y2="253.80" stroke="#303030" stroke-width="0.8"/>
<line x1="493.50" y1="249.60" x2="493.50" y2="253.80" stroke="#303030" stroke-width="0.8"/>
<line x1="500.50" y1="249.00" x2="500.50" y2="254.40" stroke="#303030" stroke-width="0.8"/>
<line x1="508.50" y1="249.60" x2="508.50" y2="253.80" stroke="#303030" stroke-width="0.8"/>
<line x1="515.50" y1="249.60" x2="515.50" y2="253.80" stroke="#303030" stroke-width="0.8"/>
<line x1="522.50" y1="249.60" x2="522.50" y2="253.80" stroke="#303030" stroke-width="0.8"/>
<line x1="529.50" y1="249.60" x2="529.50" y2="253.80" stroke="#303030" stroke-width="0.8"/>
<line x1="537.50" y1="249.00" x2="537.50" y2="254.40" stroke="#303030" stroke-width="0.8"/>
<line x1="317.40" y1="246.50" x2="321.20" y2="246.50" stroke="#303030" stroke-width="0.7"/>
<line x1="317.40" y1="251.50" x2="321.20" y2="251.50" stroke="#303030" stroke-width="0.7"/>
<line x1="317.40" y1="256.50" x2="321.20" y2="256.50" stroke="#303030" stroke-width="0.7"/>
<line x1="317.40" y1="261.50" x2="321.20" y2="261.50" stroke="#303030" stroke-width="0.7"/>
<line x1="317.40" y1="266.50" x2="321.20" y2="266.50" stroke="#303030" stroke-width="0.7"/>
<line x1="317.40" y1="270.50" x2="321.20" y2="270.50" stroke="#303030" stroke-width="0.7"/>
<line x1="317.40" y1="275.50" x2="321.20" y2="275.50" stroke="#303030" stroke-width="0.7"/>
<line x1="317.40" y1="280.50" x2="321.20" y2="280.50" stroke="#303030" stroke-width="0.7"/>
<line x1="317.40" y1="285.50" x2="321.20" y2="285.50" stroke="#303030" stroke-width="0.7"/>
<line x1="317.40" y1="289.50" x2="321.20" y2="289.50" stroke="#303030" stroke-width="0.7"/>
<line x1="317.40" y1="294.50" x2="321.20" y2="294.50" stroke="#303030" stroke-width="0.7"/>
<line x1="317.40" y1="299.50" x2="321.20" y2="299.50" stroke="#303030" stroke-width="0.7"/>
<line x1="317.40" y1="304.50" x2="321.20" y2="304.50" stroke="#303030" stroke-width="0.7"/>
<line x1="317.40" y1="309.50" x2="321.20" y2="309.50" stroke="#303030" stroke-width="0.7"/>
<line x1="317.40" y1="313.50" x2="321.20" y2="313.50" stroke="#303030" stroke-width="0.7"/>
<line x1="317.40" y1="318.50" x2="321.20" y2="318.50" stroke="#303030" stroke-width="0.7"/>
<line x1="317.40" y1="323.50" x2="321.20" y2="323.50" stroke="#303030" stroke-width="0.7"/>
<line x1="317.40" y1="328.50" x2="321.20" y2="328.50" stroke="#303030" stroke-width="0.7"/>
<line x1="317.40" y1="332.50" x2="321.20" y2="332.50" stroke="#303030" stroke-width="0.7"/>
<line x1="317.40" y1="337.50" x2="321.20" y2="337.50" stroke="#303030" stroke-width="0.7"/>
<line x1="317.40" y1="342.50" x2="321.20" y2="342.50" stroke="#303030" stroke-width="0.7"/>
<line x1="317.40" y1="347.50" x2="321.20" y2="347.50" stroke="#303030" stroke-width="0.7"/>
<line x1="317.40" y1="351.50" x2="321.20" y2="351.50" stroke="#303030" stroke-width="0.7"/>
<line x1="317.40" y1="356.50" x2="321.20" y2="356.50" stroke="#303030" stroke-width="0.7"/>
<line x1="317.40" y1="361.50" x2="321.20" y2="361.50" stroke="#303030" stroke-width="0.7"/>
<line x1="317.40" y1="366.50" x2="321.20" y2="366.50" stroke="#303030" stroke-width="0.7"/>
<line x1="317.40" y1="371.50" x2="321.20" y2="371.50" stroke="#303030" stroke-width="0.7"/>
<line x1="316.80" y1="251.50" x2="321.80" y2="251.50" stroke="#303030" stroke-width="0.7"/>
<line x1="316.80" y1="275.50" x2="321.80" y2="275.50" stroke="#303030" stroke-width="0.7"/>
<line x1="316.80" y1="299.50" x2="321.80" y2="299.50" stroke="#303030" stroke-width="0.7"/>
<line x1="316.80" y1="323.50" x2="321.80" y2="323.50" stroke="#303030" stroke-width="0.7"/>
<line x1="316.80" y1="347.50" x2="321.80" y2="347.50" stroke="#303030" stroke-width="0.7"/>
<line x1="316.80" y1="371.50" x2="321.80" y2="371.50" stroke="#303030" stroke-width="0.7"/>
<text x="310.50" y="254.60" font-size="8.3" text-anchor="end" font-weight="normal" fill="#454545"  stroke="#454545" stroke-width="0.22">0.00</text>
<text x="310.50" y="278.48" font-size="8.3" text-anchor="end" font-weight="normal" fill="#454545"  stroke="#454545" stroke-width="0.22">-0.01</text>
<text x="310.50" y="302.36" font-size="8.3" text-anchor="end" font-weight="normal" fill="#454545"  stroke="#454545" stroke-width="0.22">-0.02</text>
<text x="310.50" y="326.24" font-size="8.3" text-anchor="end" font-weight="normal" fill="#454545"  stroke="#454545" stroke-width="0.22">-0.03</text>
<text x="310.50" y="350.12" font-size="8.3" text-anchor="end" font-weight="normal" fill="#454545"  stroke="#454545" stroke-width="0.22">-0.04</text>
<text x="310.50" y="374.00" font-size="8.3" text-anchor="end" font-weight="normal" fill="#454545"  stroke="#454545" stroke-width="0.22">-0.05</text>
<text x="319.30" y="238.00" font-size="8.3" text-anchor="middle" font-weight="normal" fill="#454545"  stroke="#454545" stroke-width="0.22">0.70</text>
<text x="355.60" y="238.00" font-size="8.3" text-anchor="middle" font-weight="normal" fill="#454545"  stroke="#454545" stroke-width="0.22">0.75</text>
<text x="391.90" y="238.00" font-size="8.3" text-anchor="middle" font-weight="normal" fill="#454545"  stroke="#454545" stroke-width="0.22">0.80</text>
<text x="428.20" y="238.00" font-size="8.3" text-anchor="middle" font-weight="normal" fill="#454545"  stroke="#454545" stroke-width="0.22">0.85</text>
<text x="464.50" y="238.00" font-size="8.3" text-anchor="middle" font-weight="normal" fill="#454545"  stroke="#454545" stroke-width="0.22">0.90</text>
<text x="500.80" y="238.00" font-size="8.3" text-anchor="middle" font-weight="normal" fill="#454545"  stroke="#454545" stroke-width="0.22">0.95</text>
<text x="537.10" y="238.00" font-size="8.3" text-anchor="middle" font-weight="normal" fill="#454545"  stroke="#454545" stroke-width="0.22">1.00</text>
<text x="408.00" y="221.20" font-size="8.2" text-anchor="middle" font-weight="bold" fill="#000"  stroke="#000" stroke-width="0.3" textLength="47.90" lengthAdjust="spacingAndGlyphs">E / V vs. SHE</text>
<text transform="translate(286.70,309.00) rotate(-90)" font-size="8.4" text-anchor="middle" fill="#454545" stroke="#454545" stroke-width="0.2" textLength="27.90" lengthAdjust="spacingAndGlyphs">&lt;I&gt;/mA</text>
<path d="M368.10,370.80 L369.90,363.10 L373.20,353.20 L377.10,340.00 L379.50,330.80 L381.90,322.90 L383.50,318.10 L384.90,315.80 L386.60,313.30 L388.00,309.60 L389.80,305.40 L391.30,302.80 L393.00,299.00 L395.40,295.10 L396.80,292.40 L398.50,290.30 L400.00,288.70 L401.70,286.30 L403.30,283.20 L404.40,282.50 L405.70,280.60 L406.90,278.00 L408.00,275.30 L409.20,276.30 L410.90,273.40 L412.70,273.10 L414.10,271.60 L415.30,272.60 L417.00,269.00 L418.90,270.90 L421.10,268.30 L424.00,266.80 L427.60,266.50 L429.50,263.90 L431.30,264.60 L432.70,262.50 L434.50,261.00 L436.40,261.70 L438.20,261.00 L440.90,258.30 L443.10,256.60 L444.70,258.30 L446.40,260.50 L448.00,258.30 L449.60,257.20 L451.30,257.70 L453.50,256.30 L455.60,256.70 L457.80,255.40 L461.10,254.70 L463.30,255.40 L464.90,254.50 L467.10,256.10 L468.70,256.50 L470.90,254.50 L473.10,254.30 L476.90,254.30 L479.10,252.90 L481.30,254.00 L484.00,253.40 L485.60,255.60 L487.30,255.80 L488.40,253.40 L490.00,254.30 L492.20,255.50 L494.40,252.80 L496.50,252.20 L498.70,255.50 L500.90,256.30 L504.20,255.00 L507.50,253.90 L510.20,255.00 L511.80,255.20 L514.50,253.60 L517.30,252.80 L519.50,253.90 L522.20,253.00 L524.40,253.90 L525.50,258.70 L526.30,260.90 L527.30,260.40 L528.40,255.00 L529.80,252.20 L532.00,252.80 L533.10,256.00 L534.50,262.50 L535.40,264.70 L536.00,259.80 L536.70,250.60 L537.10,246.20" fill="none" stroke="#b9b9b9" stroke-width="1.5" stroke-linejoin="round" stroke-linecap="round" />
<text x="346.60" y="357.70" font-size="14.5" text-anchor="start" font-weight="normal" fill="#111" stroke="#111" stroke-width="0.3" textLength="12.90" lengthAdjust="spacingAndGlyphs">d)</text>
<line x1="412.00" y1="351.20" x2="438.80" y2="351.20" stroke="#b9b9b9" stroke-width="1.5" />
<text x="446.50" y="354.10" font-size="8.4" text-anchor="start" font-weight="normal" fill="#3a3a3a"  stroke="#3a3a3a" stroke-width="0.22" textLength="85.90" lengthAdjust="spacingAndGlyphs">CV_O<tspan font-size="5.5" dy="1.5">2</tspan><tspan dy="-1.5">-Ar DSCat-0.48</tspan></text>
<line x1="453.50" y1="294.70" x2="453.50" y2="263.00" stroke="#000" stroke-width="0.9" />
<path d="M453.5,257.8 L450.7,263.4 L456.3,263.4 Z" fill="#000"/>
<text x="419.50" y="308.40" font-size="10.9" text-anchor="start" font-weight="normal" fill="#111"  stroke="#111" stroke-width="0.22" textLength="105.60" lengthAdjust="spacingAndGlyphs">ORR Onset potential</text>
<text x="457.50" y="323.80" font-size="10.9" text-anchor="start" font-weight="normal" fill="#111"  stroke="#111" stroke-width="0.22" textLength="40.50" lengthAdjust="spacingAndGlyphs">885 mV</text>
<path d="M449,318.6 q1.3,-1.3 2.7,-0.3 t2.7,-0.3 M449,321.2 q1.3,-1.3 2.7,-0.3 t2.7,-0.3" fill="none" stroke="#222" stroke-width="0.8"/>
</svg>
</body></html>
